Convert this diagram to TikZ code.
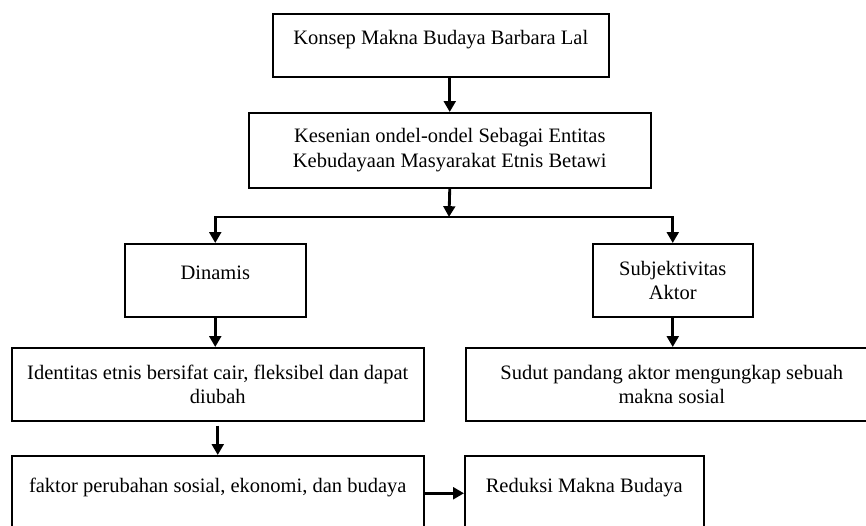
\documentclass[tikz,border=0pt]{standalone}
\usepackage{fontspec}
\setmainfont{Liberation Serif}
\usetikzlibrary{arrows.meta}

\begin{document}
\begin{tikzpicture}[x=0.6pt, y=-0.6pt, >={Triangle[length=6.5pt,width=7pt]},
	font=\fontsize{12.3}{14.7}\selectfont, line join=miter]
	\tikzset{kotak/.style={draw, line width=0.9pt, anchor=north west, align=center, inner sep=0pt},
		satu/.style={kotak, text height=9pt, text depth=10pt},
		panah/.style={->, line width=1.7pt}}
	\path[use as bounding box, clip] (0,0) rectangle (866,525);
	\node[satu, minimum width=201.6pt, minimum height=37.8pt] (konsep) at (272,13) {Konsep Makna Budaya Barbara Lal};
	\node[kotak, minimum width=241.2pt, minimum height=45pt] (kesenian) at (248,112) {Kesenian ondel-ondel Sebagai Entitas\\ Kebudayaan Masyarakat Etnis Betawi};
	\node[satu, minimum width=108.6pt, minimum height=43.8pt] (dinamis) at (124,243) {Dinamis};
	\node[kotak, minimum width=96pt, minimum height=43.8pt] (subjek) at (592,243) {Subjektivitas\\ Aktor};
	\node[kotak, minimum width=247.2pt, minimum height=43.8pt] (identitas) at (11,347) {Identitas etnis bersifat cair, fleksibel dan dapat\\ diubah};
	\node[kotak, minimum width=247.2pt, minimum height=43.8pt] (sudut) at (465,347) {Sudut pandang aktor mengungkap sebuah\\ makna sosial};
	\node[satu, minimum width=247.2pt, minimum height=45pt] (faktor) at (11,455) {faktor perubahan sosial, ekonomi, dan budaya};
	\node[satu, minimum width=143.4pt, minimum height=45pt] (reduksi) at (464,455) {Reduksi Makna Budaya};
	% cabang
	\coordinate (cabang) at (449,217);
	\draw[panah] (kesenian.north |- konsep.south) -- (kesenian.north);
	\draw[panah] (kesenian.south) -- (cabang);
	\draw[panah] (cabang) -| (dinamis.north);
	\draw[panah] (cabang) -| (subjek.north);
	\draw[panah] (dinamis.south) -- (dinamis.south |- identitas.north);
	\draw[panah] (subjek.south) -- (subjek.south |- sudut.north);
	\draw[panah, shorten <=2.4pt] (identitas.south) -- (faktor.north);
	\draw[panah] (faktor.east) -- (reduksi.west);
\end{tikzpicture}
\end{document}
